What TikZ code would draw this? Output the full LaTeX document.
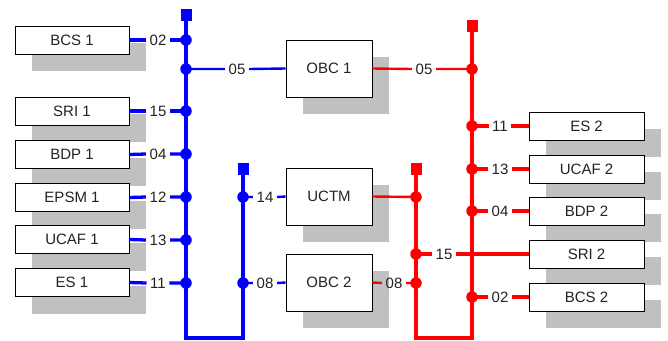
\documentclass[tikz,border=0pt]{standalone}
\usepackage{fontspec}
\setmainfont{Liberation Sans}
\usetikzlibrary{shadows}
\definecolor{txt}{RGB}{35,35,35}
\definecolor{shadowgray}{RGB}{192,192,192}
\definecolor{busblue}{RGB}{0,0,255}
\definecolor{busred}{RGB}{255,0,0}
\begin{document}
\begin{tikzpicture}[x=1pt,y=-1pt,
  box/.style={draw=black, line width=0.8pt, fill=white, minimum width=114pt, minimum height=28pt,
    inner sep=0pt, font=\fontsize{15}{18}\selectfont, text=txt,
    general shadow={fill=shadowgray, shadow xshift=17pt, shadow yshift=-17pt}},
  bigbox/.style={box, minimum width=86pt, minimum height=57pt},
  lbl/.style={inner xsep=3.5pt, inner ysep=0pt, font=\fontsize{15}{18}\selectfont, text=txt},
  bl/.style={draw=busblue, line width=3.3pt},
  blthin/.style={draw=busblue, line width=2.4pt},
  rl/.style={draw=busred, line width=3.3pt},
  rlthin/.style={draw=busred, line width=2.4pt},
  bdot/.style={circle, fill=busblue, inner sep=0pt, minimum size=11.5pt},
  rdot/.style={circle, fill=busred, inner sep=0pt, minimum size=11.5pt},
  bsq/.style={rectangle, fill=busblue, inner sep=0pt, minimum width=11pt, minimum height=12pt},
  rsq/.style={rectangle, fill=busred, inner sep=0pt, minimum width=11pt, minimum height=12pt}]
\useasboundingbox (0,0) rectangle (668,340);

% ---- boxes ----
\node[box] (bcs1)  at (72,40)    {BCS 1};
\node[box] (sri1)  at (72,111)   {SRI 1};
\node[box] (bdp1)  at (72,154.5) {BDP 1};
\node[box] (epsm1) at (72,197.5) {EPSM 1};
\node[box] (ucaf1) at (72,239.5) {UCAF 1};
\node[box] (es1)   at (72,282.5) {ES 1};

\node[bigbox] (obc1) at (329,68.5)  {OBC 1};
\node[bigbox] (uctm) at (329,196.5) {UCTM};
\node[bigbox] (obc2) at (329,282.5) {OBC 2};

\node[box, minimum width=115pt] (es2)   at (586.5,126) {ES 2};
\node[box, minimum width=115pt] (ucaf2) at (586.5,169) {UCAF 2};
\node[box, minimum width=115pt] (bdp2)  at (586.5,211) {BDP 2};
\node[box, minimum width=115pt] (sri2)  at (586.5,254) {SRI 2};
\node[box, minimum width=115pt] (bcs2)  at (586.5,297) {BCS 2};

% ---- bus coordinates ----
\coordinate (bt1) at (186,15);
\coordinate (bb1) at (186,338);
\coordinate (bb2) at (243,338);
\coordinate (bt2) at (243,169);
\coordinate (rt2) at (416,169);
\coordinate (rb2) at (416,338);
\coordinate (rb1) at (472,338);
\coordinate (rt1) at (472,26);

\coordinate (j02) at (186,40);
\coordinate (j05) at (186,69);
\coordinate (j15) at (186,111);
\coordinate (j04) at (186,154);
\coordinate (j12) at (186,197);
\coordinate (j13) at (186,240);
\coordinate (j11) at (186,283);
\coordinate (j14) at (243,197);
\coordinate (j08) at (243,283);

\coordinate (k05) at (472,69);
\coordinate (k11) at (472,126);
\coordinate (k13) at (472,169);
\coordinate (k04) at (472,211);
\coordinate (k02) at (472,297);
\coordinate (kuc) at (416,197);
\coordinate (k15) at (416,254);
\coordinate (k08) at (416,283);

% ---- buses ----
\draw[bl] (bt1) -- (bb1) -- (bb2) -- (bt2);
\draw[rl] (rt2) -- (rb2) -- (rb1) -- (rt1);

% ---- labels ----
\node[lbl] (l02) at (158,40)  {02};
\node[lbl] (l15) at (158,111) {15};
\node[lbl] (l04) at (158,154) {04};
\node[lbl] (l12) at (158,197) {12};
\node[lbl] (l13) at (158,240) {13};
\node[lbl] (l11) at (158,283) {11};
\node[lbl] (l05) at (237,69)  {05};
\node[lbl] (l14) at (265,197) {14};
\node[lbl] (l08) at (265,283) {08};

\node[lbl] (m05) at (424,69)  {05};
\node[lbl] (m08) at (394,283) {08};
\node[lbl] (m15) at (444,254) {15};
\node[lbl] (m11) at (500,126) {11};
\node[lbl] (m13) at (500,169) {13};
\node[lbl] (m04) at (500,211) {04};
\node[lbl] (m02) at (500,297) {02};

% ---- blue connectors ----
\draw[bl] (bcs1.east)  -- (l02.west) (l02.east) -- (j02);
\draw[bl] (sri1.east)  -- (l15.west) (l15.east) -- (j15);
\draw[bl] (bdp1.east)  -- (l04.west) (l04.east) -- (j04);
\draw[bl] (epsm1.east) -- (l12.west) (l12.east) -- (j12);
\draw[bl] (ucaf1.east) -- (l13.west) (l13.east) -- (j13);
\draw[bl] (es1.east)   -- (l11.west) (l11.east) -- (j11);
\draw[blthin] (j05) -- (l05.west) (l05.east) -- (obc1.west);
\draw[blthin] (j14) -- (l14.west) (l14.east) -- (uctm.west);
\draw[blthin] (j08) -- (l08.west) (l08.east) -- (obc2.west);

% ---- red connectors ----
\draw[rlthin] (obc1.east) -- (m05.west) (m05.east) -- (k05);
\draw[rlthin] (uctm.east) -- (kuc);
\draw[rlthin] (obc2.east) -- (m08.west) (m08.east) -- (k08);
\draw[rl] (k15) -- (m15.west) (m15.east) -- (sri2.west);
\draw[rl] (k11) -- (m11.west) (m11.east) -- (es2.west);
\draw[rl] (k13) -- (m13.west) (m13.east) -- (ucaf2.west);
\draw[rl] (k04) -- (m04.west) (m04.east) -- (bdp2.west);
\draw[rl] (k02) -- (m02.west) (m02.east) -- (bcs2.west);

% ---- dots ----
\foreach \p in {j02,j05,j15,j04,j12,j13,j11,j14,j08}
  \node[bdot] (d\p) at (\p) {};
\foreach \p in {k05,k11,k13,k04,k02,kuc,k15,k08}
  \node[rdot] (d\p) at (\p) {};

% ---- end squares ----
\node[bsq] (sb1) at (bt1) {};
\node[bsq] (sb2) at (bt2) {};
\node[rsq] (sr1) at (rt1) {};
\node[rsq] (sr2) at (rt2) {};
\end{tikzpicture}
\end{document}
